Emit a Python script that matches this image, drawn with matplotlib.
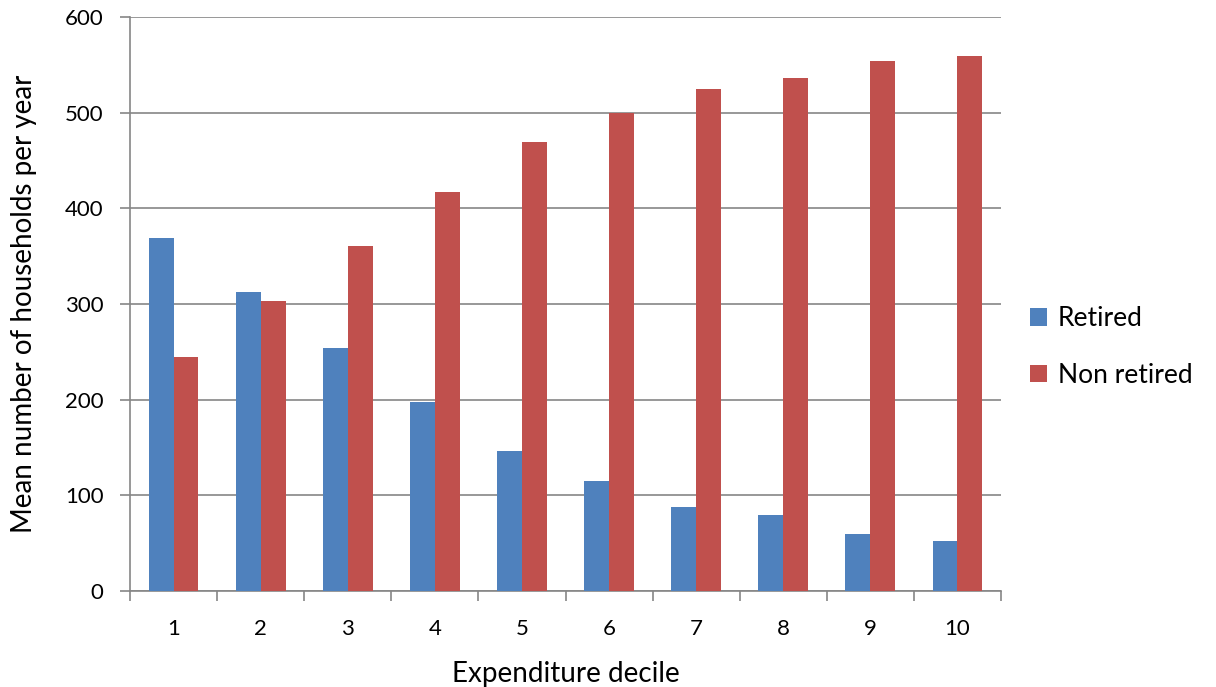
import matplotlib
matplotlib.use("Agg")
from matplotlib import pyplot as plt
import numpy as np

deciles = ["1", "2", "3", "4", "5", "6", "7", "8", "9", "10"]
retired = [369, 313, 254, 198, 146, 115, 88, 79, 60, 52]
non_retired = [245, 303, 361, 417, 469, 500, 525, 536, 554, 559]

plt.rcParams["font.family"] = ["Lato", "DejaVu Sans"]

fig = plt.figure(figsize=(12.16, 6.87), dpi=100)
ax = fig.add_axes([130 / 1216, 1 - 591 / 687, 871 / 1216, 574 / 687])

x = np.arange(len(deciles))
w = 1 / 3.5
ax.bar(x - w / 2, retired, w, color="#4F81BD", label="Retired", zorder=3)
ax.bar(x + w / 2, non_retired, w, color="#C0504D", label="Non retired", zorder=3)

ax.set_xlim(-0.5, len(deciles) - 0.5)
ax.set_ylim(0, 600)
ax.set_yticks(range(0, 601, 100))
ax.yaxis.grid(True, color="#868686", linewidth=1.2, zorder=0)

ax.set_xticks(x)
ax.set_xticklabels(deciles)
ax.set_xticks(np.arange(-0.5, len(deciles), 1), minor=True)
ax.tick_params(axis="x", which="major", length=0, pad=20, labelsize=16)
ax.tick_params(axis="x", which="minor", length=7, color="#868686", width=1.2)
ax.tick_params(axis="y", length=7, color="#868686", width=1.2, labelsize=16, pad=12)

for s in ["top", "right"]:
    ax.spines[s].set_visible(False)
for s in ["left", "bottom"]:
    ax.spines[s].set_color("#868686")
    ax.spines[s].set_linewidth(1.2)

ax.set_xlabel("Expenditure decile", fontsize=20, labelpad=16)
ax.set_ylabel("Mean number of households per year", fontsize=20, labelpad=20)

fig.legend(loc="center left", bbox_to_anchor=(1030 / 1216, 1 - 347 / 687),
           frameon=False, fontsize=19, handlelength=0.65, handleheight=0.65,
           labelspacing=1.2, handletextpad=0.4, borderpad=0, borderaxespad=0)

plt.savefig("out.png", dpi=100)
